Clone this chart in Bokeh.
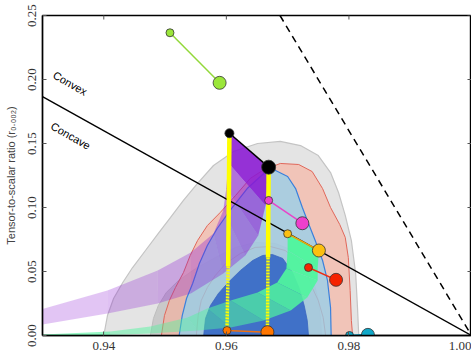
import math
from bokeh.plotting import figure
from bokeh.models import FixedTicker, NumeralTickFormatter, Range1d, ColumnDataSource
from bokeh.embed import file_html
from bokeh.resources import INLINE
from bokeh.core.properties import value

# ---------------- data ----------------
x_ticks = [0.94, 0.96, 0.98, 1.00]
y_ticks = [0.00, 0.05, 0.10, 0.15, 0.20, 0.25]

# Likelihood contours (n_s, r)
gray95_ns = [0.9400, 0.9406, 0.9416, 0.9431, 0.9447, 0.9468, 0.9489, 0.9509, 0.9530, 0.9553, 0.9579, 0.9612,
             0.9651, 0.9688, 0.9721, 0.9750, 0.9770, 0.9783, 0.9794, 0.9804, 0.9811, 0.9814, 0.9816]
gray95_r = [0.0, 0.0156, 0.0289, 0.0414, 0.0531, 0.0664, 0.0797, 0.0922, 0.1055, 0.1188, 0.1328, 0.1438,
            0.1500, 0.1516, 0.1484, 0.1406, 0.1273, 0.1117, 0.0938, 0.0742, 0.0484, 0.0219, 0.0]

gray68_ns = [0.9476, 0.9481, 0.9489, 0.9502, 0.9522, 0.9550, 0.9582, 0.9615, 0.9647, 0.9680, 0.9708, 0.9729,
             0.9742, 0.9750, 0.9754, 0.9755]
gray68_r = [0.0, 0.0133, 0.0234, 0.0336, 0.0430, 0.0523, 0.0609, 0.0688, 0.0727, 0.0719, 0.0664, 0.0570,
            0.0430, 0.0273, 0.0117, 0.0]

red95_ns = [0.9494, 0.9499, 0.9507, 0.9517, 0.9530, 0.9541, 0.9553, 0.9569, 0.9590, 0.9615, 0.9639, 0.9659,
            0.9688, 0.9718, 0.9740, 0.9757, 0.9770, 0.9785, 0.9794, 0.9799, 0.9802, 0.9804, 0.9806]
red95_r = [0.0, 0.0156, 0.0273, 0.0375, 0.0492, 0.0625, 0.0742, 0.0859, 0.0961, 0.1094, 0.1227, 0.1289,
           0.1344, 0.1336, 0.1281, 0.1148, 0.1000, 0.0867, 0.0766, 0.0609, 0.0352, 0.0117, 0.0]

red68_ns = [0.9551, 0.9554, 0.9559, 0.9569, 0.9582, 0.9599, 0.9623, 0.9647, 0.9672, 0.9696, 0.9716, 0.9731,
            0.9740, 0.9750, 0.9758, 0.9762]
red68_r = [0.0, 0.0156, 0.0273, 0.0375, 0.0469, 0.0563, 0.0641, 0.0688, 0.0695, 0.0664, 0.0586, 0.0492,
           0.0375, 0.0273, 0.0141, 0.0]

blue95_ns = [0.9523, 0.9528, 0.9535, 0.9545, 0.9556, 0.9569, 0.9585, 0.9607, 0.9634, 0.9661, 0.9677, 0.9700,
             0.9713, 0.9724, 0.9734, 0.9745, 0.9757, 0.9765, 0.9770, 0.9771]
blue95_r = [0.0, 0.0156, 0.0289, 0.0406, 0.0563, 0.0703, 0.0836, 0.0984, 0.1148, 0.1266, 0.1297, 0.1242,
            0.1148, 0.1000, 0.0875, 0.0742, 0.0586, 0.0430, 0.0219, 0.0]

blue68_ns = [0.9563, 0.9566, 0.9574, 0.9587, 0.9603, 0.9623, 0.9643, 0.9659, 0.9675, 0.9692, 0.9708, 0.9719,
             0.9727, 0.9732, 0.9734]
blue68_r = [0.0, 0.0133, 0.0234, 0.0328, 0.0414, 0.0508, 0.0586, 0.0625, 0.0633, 0.0602, 0.0492, 0.0367,
            0.0234, 0.0117, 0.0]

# Purple band: upper and lower edges
purple_up_ns = [0.9300, 0.9406, 0.9488, 0.9542, 0.9579, 0.9595, 0.9600, 0.9603, 0.9605]
purple_up_r = [0.0207, 0.0352, 0.0508, 0.0648, 0.0797, 0.0977, 0.1150, 0.1350, 0.1580]
purple_lo_ns = [0.9300, 0.9406, 0.9488, 0.9542, 0.9595, 0.9631, 0.9652, 0.9664, 0.9669]
purple_lo_r = [0.0086, 0.0172, 0.0250, 0.0328, 0.0484, 0.0625, 0.0781, 0.1016, 0.1315]

# Green band: inner and outer edges
green_in_ns = [0.9700, 0.9700, 0.9698, 0.9683, 0.9651, 0.9607, 0.9569, 0.9537, 0.9476, 0.9411, 0.9300]
green_in_r = [0.0795, 0.0664, 0.0523, 0.0414, 0.0336, 0.0273, 0.0211, 0.0141, 0.0070, 0.0031, 0.0008]
green_out_ns = [0.9751, 0.9749, 0.9749, 0.9732, 0.9705, 0.9661, 0.9607, 0.9553, 0.9476, 0.9411, 0.9300]
green_out_r = [0.0664, 0.0523, 0.0430, 0.0297, 0.0195, 0.0117, 0.0063, 0.0039, 0.0016, 0.0004, 0.0000]

# Convex / concave boundary and dashed line
convex_ns = [0.93, 1.00]
convex_r = [0.1867, 0.0]
dashed_ns = [0.96875, 1.00]
dashed_r = [0.25, 0.0]

# Yellow vertical tracks (solid upper part, dotted lower part)
yel_left_ns = [0.9605, 0.9603, 0.9601]
yel_left_r = [0.1580, 0.0540, 0.0039]
yel_right_ns = [0.9669, 0.9668, 0.9667]
yel_right_r = [0.1315, 0.0610, 0.0026]

# Model predictions: (small point, large point)
models = {
    "lime":    ([0.9508, 0.9589], [0.2365, 0.1974], "#9be63a", "#92d83a"),
    "black":   ([0.9605, 0.9669], [0.1580, 0.1315], "#000000", "#000000"),
    "magenta": ([0.9669, 0.9724], [0.1055, 0.0877], "#ee3fcc", "#e844c8"),
    "gold":    ([0.9700, 0.9751], [0.0795, 0.0664], "#fbbf10", "#e8a90c"),
    "red":     ([0.9734, 0.9779], [0.0531, 0.0435], "#f52200", "#ee2a10"),
    "orange":  ([0.9601, 0.9667], [0.0039, 0.0026], "#ff7600", "#f07010"),
    "cyan":    ([0.9801, 0.9831], [0.0000, 0.0005], "#10a8c8", "#1098b8"),
}

label_ns = [0.9345, 0.9346]
label_r = [0.197, 0.156]
label_text = ["Convex", "Concave"]

# ---------------- figure ----------------
p = figure(width=471, height=355, x_range=Range1d(0.93, 1.0), y_range=Range1d(0.0, 0.25),
           output_backend="svg", toolbar_location=None,
           min_border_left=42, min_border_right=0, min_border_top=15, min_border_bottom=20)
p.background_fill_color = "white"
p.border_fill_color = "white"
p.grid.visible = False
p.outline_line_color = "black"
p.outline_line_width = 1.4

TICK_FONT = "Liberation Serif"
LAB_FONT = "Liberation Sans"

xa = p.xaxis[0]
xa.ticker = FixedTicker(ticks=x_ticks)
xa.formatter = NumeralTickFormatter(format="0.00")
ya = p.yaxis[0]
ya.ticker = FixedTicker(ticks=y_ticks)
ya.formatter = NumeralTickFormatter(format="0.00")
ya.major_label_orientation = "vertical"
ya.axis_label = "Tensor-to-scalar ratio (r₀.₀₀₂)"
ya.axis_label_text_font = LAB_FONT
ya.axis_label_text_font_style = "normal"
ya.axis_label_text_font_size = "11px"
ya.axis_label_standoff = 8
for ax in (xa, ya):
    ax.major_tick_in = 4
    ax.major_tick_out = 0
    ax.minor_tick_line_color = None
    ax.major_tick_line_color = "#555555"
    ax.axis_line_color = "black"
    ax.axis_line_width = 1.4
    ax.major_label_text_font = TICK_FONT
    ax.major_label_text_font_size = "13px"
    ax.major_label_text_color = "#333333"
xa.major_label_standoff = 6
ya.major_label_standoff = 7

# ---------------- contours ----------------
p.patch(gray95_ns, gray95_r, fill_color="#e4e4e4", fill_alpha=1.0, line_color="#c4c4c4", line_width=1.2)
p.patch(gray68_ns, gray68_r, fill_color="#c9c9c9", fill_alpha=1.0, line_color="#bdbdbd", line_width=1.0)
p.patch(red95_ns, red95_r, fill_color="#faaf9b", fill_alpha=0.6, line_color="#e0675a", line_width=1.0)
p.line(red68_ns, red68_r, line_color="#e0675a", line_width=1.0, line_alpha=0.9)
p.patch(blue95_ns, blue95_r, fill_color="#90d0ef", fill_alpha=0.72, line_color="#3a80dc", line_width=1.2)
p.patch(blue68_ns, blue68_r, fill_color="#3a6cc6", fill_alpha=0.95, line_color="#3a66c0", line_width=0.8)

# ---------------- purple band ----------------
pxs, pys, palpha = [], [], []
purple_alphas = [0.25, 0.27, 0.30, 0.34, 0.38, 0.45, 0.56, 0.88]
for i in range(len(purple_up_ns) - 1):
    pxs.append([purple_up_ns[i], purple_up_ns[i + 1], purple_lo_ns[i + 1], purple_lo_ns[i]])
    pys.append([purple_up_r[i], purple_up_r[i + 1], purple_lo_r[i + 1], purple_lo_r[i]])
    palpha.append(purple_alphas[i])
p.patches(xs="xs", ys="ys", source=ColumnDataSource(dict(xs=pxs, ys=pys, a=palpha)),
          fill_color="#8a18d4", fill_alpha="a", line_color=None)

# ---------------- green band ----------------
gxs, gys, galpha = [], [], []
green_alphas = [0.97, 0.96, 0.93, 0.85, 0.7, 0.55, 0.45, 0.42, 0.48, 0.6]
for i in range(len(green_in_ns) - 1):
    gxs.append([green_in_ns[i], green_in_ns[i + 1], green_out_ns[i + 1], green_out_ns[i]])
    gys.append([green_in_r[i], green_in_r[i + 1], green_out_r[i + 1], green_out_r[i]])
    galpha.append(green_alphas[i])
p.patches(xs="xs", ys="ys", source=ColumnDataSource(dict(xs=gxs, ys=gys, a=galpha)),
          fill_color="#50f59e", fill_alpha="a", line_color=None)

# ---------------- boundary lines ----------------
p.line(convex_ns, convex_r, line_color="black", line_width=1.4)
p.line(dashed_ns, dashed_r, line_color="black", line_width=1.5, line_dash="7 5")

# ---------------- yellow tracks ----------------
for tns, tr in ((yel_left_ns, yel_left_r), (yel_right_ns, yel_right_r)):
    p.line(tns[:2], tr[:2], line_color="#ffff00", line_width=4.5)
    p.line(tns[1:], tr[1:], line_color="#ffff00", line_width=3.5, line_dash="2 1")

# ---------------- model points ----------------
for name, (mns, mr, fill, lcol) in models.items():
    lw = 2.0 if name == "cyan" else 1.5
    p.line(mns, mr, line_color=lcol, line_width=lw)
    small = 9 if name == "black" else 8
    big = 14 if name == "black" else 13
    p.scatter([mns[0]], [mr[0]], size=small, fill_color=fill, line_color="#333333", line_width=0.8)
    p.scatter([mns[1]], [mr[1]], size=big, fill_color=fill, line_color="#333333", line_width=0.8)

# ---------------- mirrored ticks on top and right (inward) ----------------
p.scatter(x_ticks, [y_ticks[-1]] * len(x_ticks), marker="dash", angle=math.pi / 2, size=8,
          line_color="#555555", line_width=1)
p.scatter([x_ticks[-1]] * len(y_ticks), y_ticks, marker="dash", size=8,
          line_color="#555555", line_width=1)

# ---------------- labels ----------------
p.text(x=label_ns, y=label_r, text=label_text, angle=-0.52, text_align="center",
       text_baseline="middle", text_font=value(LAB_FONT), text_font_size="11px", text_color="black")

open("out.html", "w").write(file_html(p, INLINE))
